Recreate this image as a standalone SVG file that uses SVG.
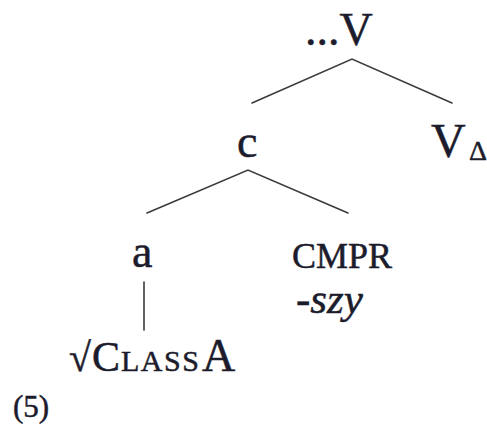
<svg xmlns="http://www.w3.org/2000/svg" width="487" height="426" viewBox="0 0 487 426">
  <style>
    text { font-family: 'Liberation Serif', serif; fill: #1c1c2c; stroke: #1c1c2c; stroke-width: 0.5; }
    .edge { stroke: #3a3a3a; stroke-width: 1.6; fill: none; stroke-linecap: round; }
  </style>
  <rect width="487" height="426" fill="#ffffff"/>

  <!-- branches of the tree -->
  <g id="connectors">
    <polyline class="edge" points="252,103 352,59 452,103"/>
    <polyline class="edge" points="147,213 248,170 348,213"/>
    <line class="edge" x1="144" y1="282" x2="144" y2="330"/>
  </g>

  <g id="node-V">
    <text x="305" y="45" font-size="46">...V</text>
  </g>
  <g id="node-c">
    <text x="237" y="157" font-size="46">c</text>
  </g>
  <g id="node-Vdelta">
    <text x="431" y="157" font-size="48">V<tspan x="469" dy="3" font-size="28">Δ</tspan></text>
  </g>
  <g id="node-a">
    <text x="132" y="267" font-size="46">a</text>
  </g>
  <g id="node-cmpr">
    <text x="292" y="268" font-size="36">CMPR</text>
    <text x="296" y="313" font-size="43" font-style="italic">-szy</text>
  </g>
  <g id="node-root">
    <text y="371" font-size="42"><tspan x="69" font-size="40">√</tspan><tspan x="92">C</tspan><tspan x="121" font-size="30" letter-spacing="1.5">LASS</tspan><tspan x="202" font-size="46">A</tspan></text>
  </g>
  <g id="example-number">
    <text x="13" y="417" font-size="31">(5)</text>
  </g>
</svg>
